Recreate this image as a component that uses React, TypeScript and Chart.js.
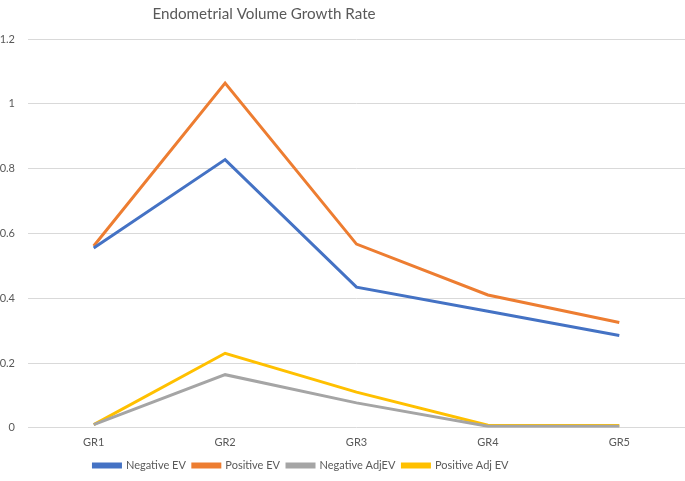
import React, { useEffect, useRef } from "react";
import { Chart, registerables } from "chart.js";

Chart.register(...registerables);

const categories = ["GR1", "GR2", "GR3", "GR4", "GR5"];
const negativeEV = [0.555, 0.828, 0.434, 0.36, 0.285];
const positiveEV = [0.561, 1.064, 0.567, 0.41, 0.325];
const negativeAdjEV = [0.01, 0.164, 0.077, 0.005, 0.005];
const positiveAdjEV = [0.01, 0.23, 0.11, 0.008, 0.007];
const seriesNames = ["Negative EV", "Positive EV", "Negative AdjEV", "Positive Adj EV"];
const colors = ["#4472C4", "#ED7D31", "#A5A5A5", "#FFC000"];

const FONT = "Lato, 'Open Sans', sans-serif";
const TEXT = "#595959";

const shiftPlugin = {
  id: "shiftBlocks",
  afterLayout(chart: any) {
    if (chart.titleBlock) {
      chart.titleBlock.left = 0;
      chart.titleBlock.right = 528;
    }
    if (chart.legend) {
      chart.legend.left = 0;
      chart.legend.right = 602;
    }
  },
};

export default function App() {
  const ref = useRef<HTMLCanvasElement | null>(null);
  useEffect(() => {
    if (!ref.current) return;
    const data = [negativeEV, positiveEV, negativeAdjEV, positiveAdjEV];
    const chart = new Chart(ref.current, {
      type: "line",
      data: {
        labels: categories,
        datasets: data.map((d, i) => ({
          label: seriesNames[i],
          data: d,
          borderColor: colors[i],
          backgroundColor: colors[i],
          borderWidth: 3,
          pointRadius: 0,
          tension: 0,
          fill: false,
        })),
      },
      plugins: [shiftPlugin],
      options: {
        responsive: false,
        animation: false,
        layout: { padding: { left: 0, right: 0, top: 0, bottom: 0 } },
        plugins: {
          title: {
            display: true,
            text: "Endometrial Volume Growth Rate",
            color: TEXT,
            font: { family: FONT, size: 15.2, weight: "normal" },
            padding: { top: 5, bottom: 15.8 },
          },
          legend: {
            position: "bottom",
            labels: {
              color: TEXT,
              font: { family: FONT, size: 11 },
              boxWidth: 27,
              boxHeight: 3,
              padding: 7,
            },
          },
          tooltip: { enabled: false },
        },
        scales: {
          x: {
            offset: true,
            grid: { display: false, drawTicks: false },
            border: { display: false },
            ticks: { color: TEXT, font: { family: FONT, size: 11 }, padding: 8 },
            afterFit: (s: any) => {
              s.height = s.height - 4;
            },
          },
          y: {
            min: 0,
            max: 1.2,
            ticks: {
              stepSize: 0.2,
              color: TEXT,
              font: { family: FONT, size: 11 },
              padding: 13,
              callback: (v: any) => String(Math.round(Number(v) * 10) / 10),
            },
            grid: { color: "#D9D9D9", lineWidth: 1, drawTicks: false },
            border: { display: false },
            afterFit: (s: any) => {
              s.width = 28;
            },
          },
        },
      },
    });
    return () => chart.destroy();
  }, []);
  return (
    <div style={{ position: "absolute", left: 0, top: 0, width: 685, height: 481, background: "#fff" }}>
      <canvas ref={ref} width={685} height={481} />
    </div>
  );
}
